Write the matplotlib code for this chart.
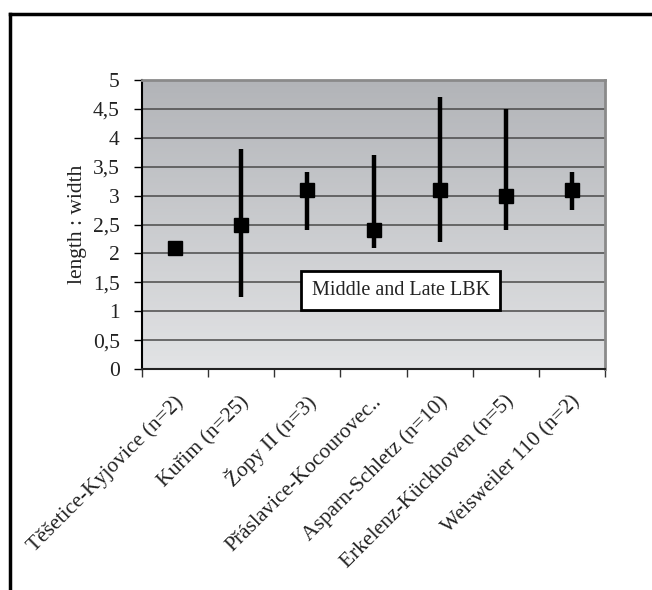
import numpy as np
import matplotlib
matplotlib.use("Agg")
import matplotlib.pyplot as plt
from matplotlib.lines import Line2D

categories = ["Těšetice-Kyjovice (n=2)", "Kuřim (n=25)", "Žopy II (n=3)",
              "Přáslavice-Kocourovec..", "Asparn-Schletz (n=10)",
              "Erkelenz-Kückhoven (n=5)", "Weisweiler 110 (n=2)"]
mean_vals = [2.1, 2.5, 3.1, 2.4, 3.1, 3.0, 3.1]
high_vals = [2.12, 3.8, 3.4, 3.7, 4.7, 4.5, 3.4]
low_vals = [2.08, 1.25, 2.4, 2.1, 2.2, 2.4, 2.75]
y_ticks = [0, 0.5, 1, 1.5, 2, 2.5, 3, 3.5, 4, 4.5, 5]
y_tick_labels = ["0", "0,5", "1", "1,5", "2", "2,5", "3", "3,5", "4", "4,5", "5"]
y_label = "length : width"
note = "Middle and Late LBK"

plt.rcParams['font.family'] = ['Liberation Serif', 'DejaVu Serif']

W, H = 652, 590
fig = plt.figure(figsize=(W / 100, H / 100), dpi=100)
ax = fig.add_axes([142 / W, 1 - 369 / H, (605 - 142) / W, (369 - 80) / H])

n = len(categories)
x = np.arange(n) + 0.5
ax.set_xlim(0, n)
ax.set_ylim(0, 5)

# gradient background
grad = np.linspace(0, 1, 256).reshape(-1, 1)
top = np.array([178, 180, 184]) / 255
bot = np.array([226, 227, 229]) / 255
img = top[None, None, :] * (1 - grad[:, :, None]) + bot[None, None, :] * grad[:, :, None]
ax.imshow(img, extent=[0, n, 0, 5], aspect='auto', zorder=0, origin='upper')

for yv in y_ticks[1:-1]:
    ax.axhline(yv, color='#4a4a4a', lw=1.1, zorder=1)

ax.vlines(x, low_vals, high_vals, colors='black', lw=3.2, zorder=3)
ax.plot(x, mean_vals, 's', color='black', ms=10.5, zorder=4)

fs = 15.5
ax.set_yticks(y_ticks)
ax.set_yticklabels(y_tick_labels, fontsize=fs, color='#222222')
ax.set_xticks(np.arange(n + 1))
ax.set_xticklabels([])
ax.tick_params(axis='y', length=6, width=1, pad=10, direction='out')
ax.tick_params(axis='x', length=6, width=1, direction='out', color='#333333')

for xi, lab in zip(x, categories):
    ax.text(xi + 0.08, -0.52, lab, rotation=45, ha='right', va='center',
            rotation_mode='anchor', fontsize=fs, color='#222222',
            transform=ax.transData, clip_on=False)

ax.set_ylabel(y_label, fontsize=fs, color='#222222', labelpad=4)

for s in ['top', 'right']:
    ax.spines[s].set_color('#8a8a8a')
    ax.spines[s].set_linewidth(2)
ax.spines['left'].set_color('black')
ax.spines['left'].set_linewidth(1.5)
ax.spines['bottom'].set_color('#222222')
ax.spines['bottom'].set_linewidth(1.5)

ax.text(3.91, 1.36, note, ha='center', va='center', fontsize=14.5, color='#222222',
        zorder=5, bbox=dict(boxstyle='square,pad=0.5', fc='white', ec='black', lw=2))

# figure border (top and left)
fig.add_artist(Line2D([10 / W, 1], [1 - 14 / H, 1 - 14 / H], color='black', lw=2.5,
                      transform=fig.transFigure))
fig.add_artist(Line2D([10 / W, 10 / W], [0, 1 - 14 / H], color='black', lw=2.5,
                      transform=fig.transFigure))

fig.savefig("out.png", dpi=100)
